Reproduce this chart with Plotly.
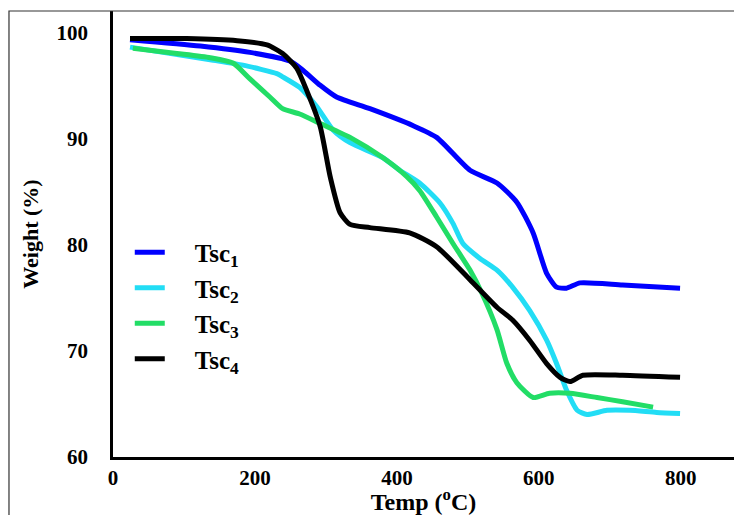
import plotly.graph_objects as go

# Temperature (°C) and weight (%)
tsc1_temp = [24, 123, 193, 249, 268, 292, 315, 362, 423, 456, 503, 541, 569, 592, 611, 625, 639, 658, 718, 799]
tsc1_weight = [99.3, 98.7, 98.1, 97.3, 96.4, 95.0, 93.9, 92.8, 91.2, 90.1, 87.0, 85.8, 84.0, 81.1, 77.3, 76.0, 75.9, 76.4, 76.2, 75.9]

tsc2_temp = [24, 137, 183, 231, 239, 263, 287, 310, 334, 380, 404, 432, 461, 479, 493, 517, 541, 563, 587, 611, 625, 639, 654, 668, 696, 728, 766, 799]
tsc2_weight = [98.6, 97.4, 96.9, 96.1, 95.8, 94.8, 93.0, 90.8, 89.6, 88.2, 87.0, 85.8, 83.9, 82.0, 80.1, 78.7, 77.6, 76.0, 73.8, 71.0, 68.8, 66.3, 64.4, 64.0, 64.4, 64.4, 64.2, 64.1]

tsc3_temp = [28, 90, 137, 169, 193, 221, 239, 263, 292, 334, 380, 414, 432, 456, 479, 503, 520, 541, 555, 569, 592, 615, 644, 682, 718, 761]
tsc3_weight = [98.5, 98.0, 97.6, 97.1, 95.6, 93.9, 92.8, 92.3, 91.4, 90.1, 88.2, 86.4, 85.1, 82.6, 80.1, 77.6, 75.4, 72.0, 68.8, 67.0, 65.6, 66.0, 66.0, 65.6, 65.2, 64.7]

tsc4_temp = [24, 104, 175, 217, 239, 259, 273, 292, 306, 320, 334, 362, 418, 456, 503, 541, 563, 587, 611, 630, 644, 662, 718, 799]
tsc4_weight = [99.4, 99.4, 99.2, 98.8, 98.0, 96.6, 94.5, 91.1, 86.4, 83.0, 81.9, 81.6, 81.1, 79.8, 76.7, 74.1, 72.9, 71.0, 68.8, 67.5, 67.1, 67.7, 67.7, 67.5]

series_names = ["Tsc<sub>1</sub>", "Tsc<sub>2</sub>", "Tsc<sub>3</sub>", "Tsc<sub>4</sub>"]
series_colors = ["#0000FF", "#22DDF5", "#22DD66", "#000000"]

x_ticks = [0, 200, 400, 600, 800]
y_ticks = [60, 70, 80, 90, 100]

serif = "Liberation Serif, Times New Roman, serif"
pad = "\u00a0" * 4

fig = go.Figure()
data = [(tsc1_temp, tsc1_weight), (tsc2_temp, tsc2_weight), (tsc3_temp, tsc3_weight), (tsc4_temp, tsc4_weight)]
for i, ((xs, ys), name, color) in enumerate(zip(data, series_names, series_colors)):
    fig.add_trace(go.Scatter(
        x=xs, y=ys, mode="lines", name=pad + name, legendgroup=f"g{i}",
        line=dict(color=color, width=5, shape="spline", smoothing=0.6),
    ))

fig.update_layout(
    width=734, height=515,
    margin=dict(l=113, r=0, t=11, b=58),
    paper_bgcolor="white", plot_bgcolor="white",
    font=dict(family=serif, color="black"),
    showlegend=True,
    legend=dict(
        x=0.027, y=0.51, xanchor="left", yanchor="top",
        bgcolor="rgba(0,0,0,0)", borderwidth=0,
        font=dict(family=serif, size=25, color="black", weight="bold"),
        tracegroupgap=0, itemwidth=30,
    ),
    xaxis=dict(
        range=[0, 875], tickvals=x_ticks, showgrid=False, zeroline=False,
        showline=True, linecolor="black", linewidth=3, ticks="",
        tickfont=dict(family=serif, size=21, weight="bold"),
        title=dict(text="Temp (<sup>o</sup>C)", font=dict(family=serif, size=24, weight="bold"), standoff=6),
    ),
    yaxis=dict(
        range=[60, 102], tickvals=y_ticks, showgrid=False, zeroline=False,
        showline=True, linecolor="black", linewidth=2.5,
        ticks="outside", ticklen=18, tickcolor="rgba(0,0,0,0)",
        tickfont=dict(family=serif, size=21, weight="bold"),
        title=dict(text="Weight (%)", font=dict(family=serif, size=22, weight="bold"), standoff=12),
    ),
    shapes=[dict(
        type="rect", xref="paper", yref="paper",
        x0=-0.1675, x1=1.2, y0=-0.3, y1=1.0,
        line=dict(color="#333333", width=1.2), fillcolor="rgba(0,0,0,0)",
    )],
)

fig.write_html(
    "out.html",
    config={"displayModeBar": False},
    post_script="document.body.style.margin='0';document.body.style.overflow='hidden';",
)
